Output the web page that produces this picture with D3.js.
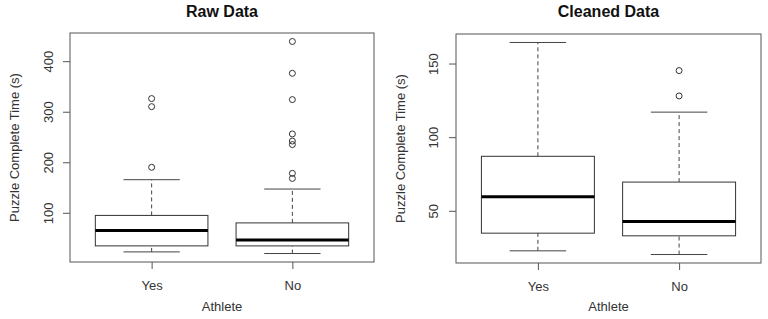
<!DOCTYPE html>
<html>
<head>
<meta charset="utf-8">
<script src="https://cdn.jsdelivr.net/npm/d3@7"></script>
<style>
  body { margin: 0; background: #fff; }
  svg text { font-family: "Liberation Sans", Arial, sans-serif; fill: #333; }
</style>
</head>
<body>
<div id="chart"></div>
<script>
"use strict";

// === Data ===
const athleteGroups = ["Yes", "No"];

// Raw data: whisker ends, quartiles, medians, outliers
const rawLow = [22.6, 19.4];
const rawQ1 = [34.5, 34.5];
const rawMedian = [65, 46];
const rawQ3 = [94.8, 80];
const rawHigh = [165.5, 147];
const rawOutliers = [[190, 310, 326], [168, 178, 235, 242, 256, 324, 376, 439]];
const rawTicks = [100, 200, 300, 400];

// Cleaned data
const cleanLow = [22.8, 20.3];
const cleanQ1 = [34.8, 33];
const cleanMedian = [59.5, 42.8];
const cleanQ3 = [87, 69.5];
const cleanHigh = [164.3, 117];
const cleanOutliers = [[], [128, 145.2]];
const cleanTicks = [50, 100, 150];

// === SVG setup ===
const svgWidth = 768, svgHeight = 319;

const svg = d3.select("#chart")
  .append("svg")
  .attr("width", svgWidth)
  .attr("height", svgHeight);

function drawPanel(p) {
  const g = svg.append("g");

  // R-style limits: data range padded by 4%
  const all = p.low.concat(p.high, p.outliers.flat());
  const [mn, mx] = d3.extent(all);
  const pad = (mx - mn) * 0.04;

  const y = d3.scaleLinear()
    .domain([mn - pad, mx + pad])
    .range([p.bottom, p.top]);

  const x = d3.scaleLinear()
    .domain([0.42, 2.58])
    .range([p.left, p.right]);

  const boxes = athleteGroups.map((name, i) => ({
    name, pos: i + 1,
    low: p.low[i], q1: p.q1[i], median: p.median[i], q3: p.q3[i], high: p.high[i],
    outliers: p.outliers[i]
  }));

  // whiskers (dashed)
  g.selectAll(".whisker")
    .data(boxes.flatMap(d => [[d.pos, d.low, d.q1], [d.pos, d.q3, d.high]]))
    .enter()
    .append("line")
    .attr("x1", d => x(d[0]))
    .attr("x2", d => x(d[0]))
    .attr("y1", d => y(d[1]))
    .attr("y2", d => y(d[2]))
    .attr("stroke", "#444")
    .attr("stroke-dasharray", "4,3");

  // whisker caps
  g.selectAll(".cap")
    .data(boxes.flatMap(d => [[d.pos, d.low], [d.pos, d.high]]))
    .enter()
    .append("line")
    .attr("x1", d => x(d[0] - 0.2))
    .attr("x2", d => x(d[0] + 0.2))
    .attr("y1", d => y(d[1]))
    .attr("y2", d => y(d[1]))
    .attr("stroke", "#444");

  // boxes
  g.selectAll(".box")
    .data(boxes)
    .enter()
    .append("rect")
    .attr("x", d => x(d.pos - 0.4))
    .attr("width", d => x(d.pos + 0.4) - x(d.pos - 0.4))
    .attr("y", d => y(d.q3))
    .attr("height", d => y(d.q1) - y(d.q3))
    .attr("fill", "#fff")
    .attr("stroke", "#333");

  // medians
  g.selectAll(".median")
    .data(boxes)
    .enter()
    .append("line")
    .attr("x1", d => x(d.pos - 0.4))
    .attr("x2", d => x(d.pos + 0.4))
    .attr("y1", d => y(d.median))
    .attr("y2", d => y(d.median))
    .attr("stroke", "#000")
    .attr("stroke-width", 3);

  // outliers
  g.selectAll(".outlier")
    .data(boxes.flatMap(d => d.outliers.map(v => [d.pos, v])))
    .enter()
    .append("circle")
    .attr("cx", d => x(d[0]))
    .attr("cy", d => y(d[1]))
    .attr("r", 3)
    .attr("fill", "none")
    .attr("stroke", "#333");

  // frame
  g.append("rect")
    .attr("x", p.left)
    .attr("y", p.top)
    .attr("width", p.right - p.left)
    .attr("height", p.bottom - p.top)
    .attr("fill", "none")
    .attr("stroke", "#555");

  // y axis (tick labels rotated, like R's default)
  const yAxis = g.append("g")
    .attr("transform", `translate(${p.left},0)`)
    .call(d3.axisLeft(y).tickValues(p.ticks).tickSize(7).tickSizeOuter(0).tickFormat(d3.format("d")));
  yAxis.select(".domain").remove();
  yAxis.selectAll("line").attr("stroke", "#555");
  yAxis.selectAll("text")
    .attr("font-size", 13)
    .attr("transform", `translate(${p.tickLabelX - p.left},0) rotate(-90)`)
    .attr("x", 0).attr("y", 0).attr("dy", 0)
    .attr("text-anchor", "middle")
    .style("fill", "#333");

  // x axis
  const xAxis = g.append("g")
    .attr("transform", `translate(0,${p.bottom})`)
    .call(d3.axisBottom(x).tickValues([1, 2]).tickSize(7)
      .tickFormat(d => athleteGroups[d - 1]));
  xAxis.select(".domain").remove();
  xAxis.selectAll("line").attr("stroke", "#555");
  xAxis.selectAll("text")
    .attr("font-size", 13)
    .attr("y", 28)
    .attr("dy", 0)
    .style("fill", "#333");

  // axis labels
  g.append("text")
    .attr("x", (p.left + p.right) / 2)
    .attr("y", 311)
    .attr("text-anchor", "middle")
    .attr("font-size", 13)
    .text("Athlete");

  g.append("text")
    .attr("transform", `translate(${p.labelX},${(p.top + p.bottom) / 2}) rotate(-90)`)
    .attr("text-anchor", "middle")
    .attr("font-size", 13)
    .text("Puzzle Complete Time (s)");

  // title
  g.append("text")
    .attr("x", (p.left + p.right) / 2)
    .attr("y", 17)
    .attr("text-anchor", "middle")
    .attr("font-size", 16)
    .attr("font-weight", "bold")
    .style("fill", "#111")
    .text(p.title);
}

drawPanel({
  title: "Raw Data",
  left: 70, right: 374, top: 33, bottom: 262,
  tickLabelX: 53, labelX: 19,
  low: rawLow, q1: rawQ1, median: rawMedian, q3: rawQ3, high: rawHigh,
  outliers: rawOutliers, ticks: rawTicks
});

drawPanel({
  title: "Cleaned Data",
  left: 456, right: 761, top: 34, bottom: 263,
  tickLabelX: 438, labelX: 405,
  low: cleanLow, q1: cleanQ1, median: cleanMedian, q3: cleanQ3, high: cleanHigh,
  outliers: cleanOutliers, ticks: cleanTicks
});
</script>
</body>
</html>
